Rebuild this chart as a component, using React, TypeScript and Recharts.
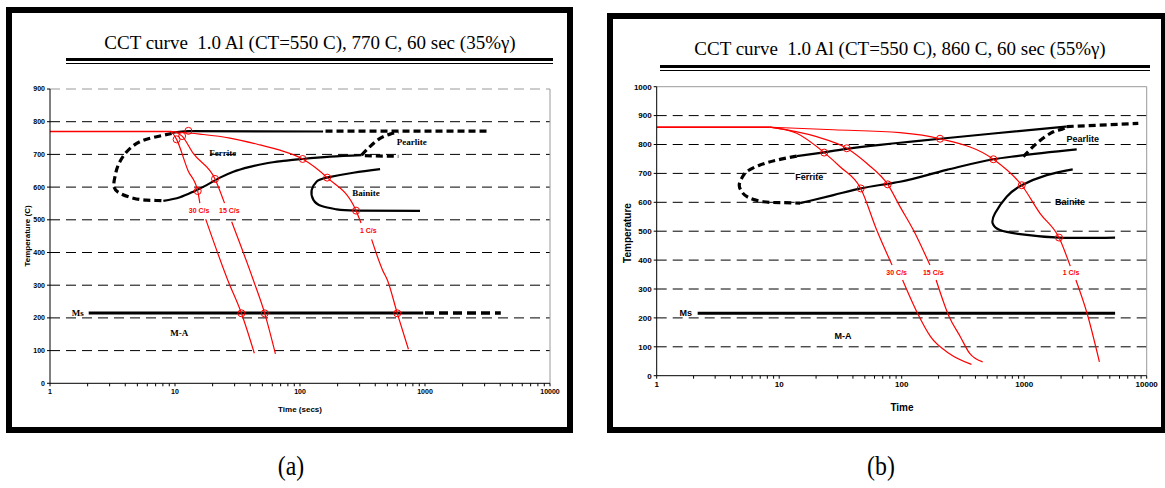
import { ComposedChart, Line, Scatter, XAxis, YAxis, CartesianGrid, ReferenceLine } from "recharts";

type Pt = { t: number; T: number };
type Tag = Pt & { label: string };

// log-axis tick positions: every integer step inside each decade
const DECADES = [1, 10, 100, 1000, 10000];
const LOG_TICKS: number[] = [];
DECADES.slice(0, -1).forEach((d) => {
  for (let k = 1; k <= 9; k++) LOG_TICKS.push(k * d);
});
LOG_TICKS.push(10000);

// ---------- (a) 770 C, 60 sec ----------
const aTempTicks = [0, 100, 200, 300, 400, 500, 600, 700, 800, 900];
const aHold: Pt[] = [{ t: 1, T: 770 }, { t: 9.4, T: 770 }];
const a30Top: Pt[] = [{ t: 9.4, T: 770 }, { t: 10.3, T: 746 }, { t: 12.7, T: 651 }, { t: 15.2, T: 588 }, { t: 15.8, T: 551 }];
const a30Low: Pt[] = [{ t: 17.6, T: 502 }, { t: 26.4, T: 316 }, { t: 34, T: 214 }, { t: 43.1, T: 92 }];
const a15Top: Pt[] = [{ t: 9.8, T: 770 }, { t: 11.4, T: 756 }, { t: 14, T: 703 }, { t: 20.9, T: 625 }, { t: 24.9, T: 551 }];
const a15Low: Pt[] = [{ t: 28.4, T: 494 }, { t: 42.3, T: 316 }, { t: 52.2, T: 214 }, { t: 63.6, T: 90 }];
const a1Top: Pt[] = [
  { t: 9.4, T: 770 }, { t: 15.8, T: 762 }, { t: 27.5, T: 750 }, { t: 47.9, T: 729 }, { t: 69.2, T: 713 },
  { t: 105, T: 686 }, { t: 165, T: 629 }, { t: 281, T: 528 }, { t: 308, T: 490 },
];
const a1Low: Pt[] = [{ t: 374, T: 440 }, { t: 458, T: 346 }, { t: 500, T: 316 }, { t: 600, T: 214 }, { t: 737, T: 104 }];

const aFerriteNose: Pt[] = [
  { t: 9.4, T: 764 }, { t: 7.13, T: 754 }, { t: 5.25, T: 739 }, { t: 4.11, T: 708 }, { t: 3.52, T: 668 },
  { t: 3.31, T: 632 }, { t: 3.25, T: 601 }, { t: 3.63, T: 581 }, { t: 4.64, T: 566 }, { t: 5.93, T: 560 },
  { t: 7.13, T: 559 }, { t: 8.07, T: 558 },
];
const aFerriteStart: Pt[] = [{ t: 9.4, T: 766 }, { t: 12.8, T: 771 }, { t: 153, T: 770 }];
const aFerriteStartExt: Pt[] = [{ t: 160, T: 771 }, { t: 3150, T: 771 }];
const aFerriteEnd: Pt[] = [
  { t: 8.07, T: 558 }, { t: 10.96, T: 569 }, { t: 14, T: 586 }, { t: 17.9, T: 606 }, { t: 22.9, T: 629 },
  { t: 29.3, T: 647 }, { t: 39.8, T: 662 }, { t: 54.1, T: 673 }, { t: 73.6, T: 680 }, { t: 105, T: 686 },
  { t: 174, T: 693 }, { t: 311, T: 698 },
];
const aFerriteEndExt: Pt[] = [{ t: 330, T: 696 }, { t: 612, T: 694 }];
const aPearlite: Pt[] = [{ t: 311, T: 698 }, { t: 363, T: 724 }, { t: 437, T: 749 }, { t: 525, T: 762 }, { t: 612, T: 768 }];
const aBainite: Pt[] = [
  { t: 437, T: 655 }, { t: 267, T: 644 }, { t: 163, T: 629 }, { t: 136, T: 617 }, { t: 124, T: 591 },
  { t: 128, T: 561 }, { t: 149, T: 542 }, { t: 196, T: 532 }, { t: 281, T: 528 }, { t: 912, T: 527 },
];
const aMs: Pt[] = [{ t: 2.04, T: 215 }, { t: 968, T: 215 }];
const aMsExt: Pt[] = [{ t: 1000, T: 215 }, { t: 4040, T: 215 }];
const aRings: Pt[] = [
  { t: 10.3, T: 746 }, { t: 11.4, T: 756 }, { t: 12.8, T: 772 }, { t: 15.2, T: 588 }, { t: 20.9, T: 625 },
  { t: 105, T: 686 }, { t: 165, T: 629 }, { t: 281, T: 528 }, { t: 34, T: 214 }, { t: 52.2, T: 214 }, { t: 600, T: 214 },
];
const aPhaseTags: Tag[] = [
  { t: 24.1, T: 705, label: "Ferrite" }, { t: 783, T: 739, label: "Pearlite" }, { t: 337, T: 581, label: "Bainite" },
  { t: 1.67, T: 215, label: "Ms" }, { t: 10.8, T: 153, label: "M-A" },
];
const aRateTags: Tag[] = [
  { t: 15.6, T: 527, label: "30 C/s" }, { t: 27.2, T: 527, label: "15 C/s" }, { t: 352, T: 466, label: "1 C/s" },
];

// ---------- (b) 860 C, 60 sec ----------
const bTempTicks = [0, 100, 200, 300, 400, 500, 600, 700, 800, 900, 1000];
const bHold: Pt[] = [{ t: 1, T: 860 }, { t: 8.4, T: 860 }];
const b30Top: Pt[] = [
  { t: 8.4, T: 860 }, { t: 13.9, T: 839 }, { t: 23.3, T: 772 }, { t: 31.4, T: 723 }, { t: 46.3, T: 648 },
  { t: 62.5, T: 504 }, { t: 83.4, T: 383 },
];
const b30Low: Pt[] = [{ t: 101.7, T: 331 }, { t: 134.6, T: 216 }, { t: 172, T: 135 }, { t: 244, T: 77 }, { t: 371, T: 39 }];
const b15Top: Pt[] = [
  { t: 8.4, T: 860 }, { t: 20.2, T: 827 }, { t: 35.6, T: 787 }, { t: 51.8, T: 735 }, { t: 76.9, T: 662 },
  { t: 96.9, T: 585 }, { t: 124.5, T: 504 }, { t: 170, T: 383 },
];
const b15Low: Pt[] = [{ t: 191, T: 331 }, { t: 244, T: 204 }, { t: 301, T: 135 }, { t: 359, T: 77 }, { t: 458, T: 48 }];
const b1Top: Pt[] = [
  { t: 8.4, T: 860 }, { t: 27.7, T: 851 }, { t: 96.9, T: 841 }, { t: 205.6, T: 820 }, { t: 560, T: 749 },
  { t: 955, T: 659 }, { t: 1346, T: 562 }, { t: 1923, T: 478 }, { t: 2378, T: 379 },
];
const b1Low: Pt[] = [{ t: 2643, T: 331 }, { t: 3258, T: 216 }, { t: 4111, T: 48 }];

const bFerriteNose: Pt[] = [
  { t: 13.9, T: 760 }, { t: 9.55, T: 746 }, { t: 6.97, T: 729 }, { t: 5.43, T: 706 }, { t: 4.94, T: 683 },
  { t: 4.72, T: 660 }, { t: 4.94, T: 637 }, { t: 5.6, T: 617 }, { t: 7.42, T: 602 }, { t: 10.2, T: 599 },
  { t: 14.8, T: 597 },
];
const bFerriteStart: Pt[] = [
  { t: 13.9, T: 760 }, { t: 23.3, T: 773 }, { t: 35.6, T: 785 }, { t: 66.5, T: 799 }, { t: 96.9, T: 806 },
  { t: 205.6, T: 820 }, { t: 560, T: 838 }, { t: 2223, T: 862 },
];
const bFerriteStartExt: Pt[] = [{ t: 2223, T: 862 }, { t: 8540, T: 873 }];
const bFerriteEnd: Pt[] = [
  { t: 14.8, T: 597 }, { t: 27.7, T: 625 }, { t: 46.3, T: 648 }, { t: 76.9, T: 664 }, { t: 96.9, T: 671 },
  { t: 233, T: 712 }, { t: 560, T: 749 }, { t: 868, T: 760 }, { t: 2683, T: 783 },
];
const bPearlite: Pt[] = [{ t: 984, T: 758 }, { t: 1265, T: 804 }, { t: 1728, T: 844 }, { t: 2154, T: 858 }, { t: 2223, T: 862 }];
const bBainite: Pt[] = [
  { t: 2489, T: 714 }, { t: 1527, T: 694 }, { t: 955, T: 659 }, { t: 719, T: 619 }, { t: 578, T: 562 },
  { t: 553, T: 527 }, { t: 634, T: 504 }, { t: 925, T: 490 }, { t: 1923, T: 478 }, { t: 5520, T: 478 },
];
const bMs: Pt[] = [{ t: 2.16, T: 216 }, { t: 5520, T: 216 }];
const bRings: Pt[] = [
  { t: 23.3, T: 772 }, { t: 35.6, T: 787 }, { t: 46.3, T: 648 }, { t: 76.9, T: 662 },
  { t: 205.6, T: 820 }, { t: 560, T: 749 }, { t: 955, T: 659 }, { t: 1923, T: 478 },
];
const bPhaseTags: Tag[] = [
  { t: 17.6, T: 689, label: "Ferrite" }, { t: 3006, T: 818, label: "Pearlite" }, { t: 2366, T: 601, label: "Bainite" },
  { t: 1.73, T: 216, label: "Ms" }, { t: 33.2, T: 137, label: "M-A" },
];
const bRateTags: Tag[] = [
  { t: 91, T: 358, label: "30 C/s" }, { t: 181, T: 358, label: "15 C/s" }, { t: 2410, T: 358, label: "1 C/s" },
];

const SANS = "'Liberation Sans', Arial, sans-serif";
const SERIF = "'Liberation Serif', 'Times New Roman', serif";
const RED = "#ff0000";

type Kind = "red" | "hold" | "solid" | "dash" | "ms" | "msDash";
type Series = { data: Pt[]; kind: Kind; curve?: "monotone" | "natural" | "linear" };

const STYLE: Record<Kind, { stroke: string; width: number; dash?: string }> = {
  red: { stroke: RED, width: 1.2 },
  hold: { stroke: RED, width: 1.6 },
  solid: { stroke: "#000", width: 2.2 },
  dash: { stroke: "#000", width: 3.2, dash: "7 4" },
  ms: { stroke: "#000", width: 3 },
  msDash: { stroke: "#000", width: 3.6, dash: "9 5" },
};

const aSeries: Series[] = [
  { data: aFerriteNose, kind: "dash", curve: "natural" },
  { data: aFerriteStart, kind: "solid" }, { data: aFerriteStartExt, kind: "dash" },
  { data: aFerriteEnd, kind: "solid" }, { data: aFerriteEndExt, kind: "dash" },
  { data: aPearlite, kind: "dash" },
  { data: aBainite, kind: "solid", curve: "natural" },
  { data: aMs, kind: "ms" }, { data: aMsExt, kind: "msDash" },
  { data: aHold, kind: "hold", curve: "linear" },
  { data: a30Top, kind: "red" }, { data: a30Low, kind: "red" },
  { data: a15Top, kind: "red" }, { data: a15Low, kind: "red" },
  { data: a1Top, kind: "red" }, { data: a1Low, kind: "red" },
];

const bSeries: Series[] = [
  { data: bFerriteNose, kind: "dash", curve: "natural" },
  { data: bFerriteStart, kind: "solid" }, { data: bFerriteStartExt, kind: "dash" },
  { data: bFerriteEnd, kind: "solid" },
  { data: bPearlite, kind: "dash" },
  { data: bBainite, kind: "solid", curve: "natural" },
  { data: bMs, kind: "ms" },
  { data: bHold, kind: "hold", curve: "linear" },
  { data: b30Top, kind: "red" }, { data: b30Low, kind: "red" },
  { data: b15Top, kind: "red" }, { data: b15Low, kind: "red" },
  { data: b1Top, kind: "red" }, { data: b1Low, kind: "red" },
];

const ring = (p: any) => <circle cx={p.cx} cy={p.cy} r={3.5} fill="none" stroke={RED} strokeWidth={1} />;

const textMark = (fill: string, family: string, size: number) => (p: any) => (
  <text x={p.cx} y={p.cy} textAnchor="middle" dominantBaseline="central" fill={fill}
    fontFamily={family} fontSize={size} fontWeight={700}>
    {p.payload.label}
  </text>
);

interface PanelProps {
  left: number;
  width: number;
  height: number;
  margin: { top: number; right: number; bottom: number; left: number };
  yMax: number;
  yTicks: number[];
  tickFont: number;
  series: Series[];
  rings: Pt[];
  phaseTags: Tag[];
  rateTags: Tag[];
  phaseFont: string;
  phaseSize: number;
  topSolid: boolean;
}

function CctPanel(p: PanelProps) {
  const tickStyle = { fontSize: p.tickFont, fill: "#000", fontWeight: 700, fontFamily: SANS };
  return (
    <div style={{ position: "absolute", left: p.left, top: 0 }}>
      <ComposedChart width={p.width} height={p.height} margin={p.margin}>
        <CartesianGrid vertical={false} stroke="#000" strokeDasharray="10 6"
          horizontalValues={p.yTicks.filter((v) => v > 0 && v < p.yMax)} />
        <ReferenceLine y={p.yMax} stroke="#9a9a9a" strokeWidth={1} strokeDasharray={p.topSolid ? undefined : "10 6"} />
        <ReferenceLine x={10000} stroke="#9a9a9a" strokeWidth={1} />
        <XAxis type="number" dataKey="t" scale="log" domain={[1, 10000]} ticks={LOG_TICKS} interval={0}
          allowDataOverflow tickFormatter={(v: number) => (DECADES.includes(v) ? String(v) : "")}
          tick={tickStyle} tickSize={3} tickMargin={3} stroke="#000" height={20} />
        <YAxis type="number" dataKey="T" domain={[0, p.yMax]} ticks={p.yTicks} interval={0}
          allowDataOverflow tick={tickStyle} tickSize={3} tickMargin={2} stroke="#000" width={40} />
        {p.series.map((s, i) => {
          const st = STYLE[s.kind];
          return (
            <Line key={i} name={`s${i}`} data={s.data} dataKey="T" type={s.curve ?? "monotone"}
              stroke={st.stroke} strokeWidth={st.width} strokeDasharray={st.dash} dot={false}
              activeDot={false} isAnimationActive={false} />
          );
        })}
        <Scatter name="rings" data={p.rings} shape={ring} isAnimationActive={false} />
        <Scatter name="phases" data={p.phaseTags} shape={textMark("#000", p.phaseFont, p.phaseSize)} isAnimationActive={false} />
        <Scatter name="rates" data={p.rateTags} shape={textMark(RED, SANS, 7)} isAnimationActive={false} />
      </ComposedChart>
    </div>
  );
}

const abs = (s: React.CSSProperties): React.CSSProperties => ({ position: "absolute", ...s });

export default function App() {
  return (
    <div style={{ position: "absolute", left: 0, top: 0, width: 1165, height: 488, background: "#fff", overflow: "hidden" }}>
      {/* frames */}
      <div style={abs({ left: 6, top: 7, width: 567, height: 426, border: "6px solid #000", boxSizing: "border-box" })} />
      <div style={abs({ left: 607, top: 13, width: 560, height: 420, border: "6px solid #000", boxSizing: "border-box" })} />

      {/* titles with double rule */}
      <div style={abs({ left: 60, width: 500, top: 32, textAlign: "center", fontFamily: SERIF, fontSize: 19, whiteSpace: "nowrap" })}>
        CCT curve&nbsp; 1.0 Al (CT=550 C), 770 C, 60 sec (35%γ)
      </div>
      <div style={abs({ left: 66, width: 487, top: 58, height: 3, background: "#000" })} />
      <div style={abs({ left: 66, width: 487, top: 63, height: 1, background: "#000" })} />

      <div style={abs({ left: 650, width: 500, top: 38, textAlign: "center", fontFamily: SERIF, fontSize: 19, whiteSpace: "nowrap" })}>
        CCT curve&nbsp; 1.0 Al (CT=550 C), 860 C, 60 sec (55%γ)
      </div>
      <div style={abs({ left: 660, width: 490, top: 65, height: 3, background: "#000" })} />
      <div style={abs({ left: 660, width: 490, top: 70, height: 1, background: "#000" })} />

      <CctPanel left={0} width={580} height={430}
        margin={{ top: 89, right: 30, bottom: 26.7, left: 10 }}
        yMax={900} yTicks={aTempTicks} tickFont={7} series={aSeries} rings={aRings}
        phaseTags={aPhaseTags} rateTags={aRateTags} phaseFont={SERIF} phaseSize={9} topSolid={false} />
      <CctPanel left={600} width={565} height={430}
        margin={{ top: 86.7, right: 18.3, bottom: 34.3, left: 16.7 }}
        yMax={1000} yTicks={bTempTicks} tickFont={8} series={bSeries} rings={bRings}
        phaseTags={bPhaseTags} rateTags={bRateTags} phaseFont={SANS} phaseSize={9} topSolid={true} />

      {/* axis titles */}
      <div style={abs({ left: 27, top: 236, transform: "translate(-50%,-50%) rotate(-90deg)", fontFamily: SANS, fontWeight: 700, fontSize: 8, whiteSpace: "nowrap" })}>
        Temperature (C)
      </div>
      <div style={abs({ left: 300, top: 409, transform: "translate(-50%,-50%)", fontFamily: SANS, fontWeight: 700, fontSize: 8, whiteSpace: "nowrap" })}>
        Time (secs)
      </div>
      <div style={abs({ left: 627, top: 233, transform: "translate(-50%,-50%) rotate(-90deg)", fontFamily: SANS, fontWeight: 700, fontSize: 10, whiteSpace: "nowrap" })}>
        Temperature
      </div>
      <div style={abs({ left: 902, top: 407, transform: "translate(-50%,-50%)", fontFamily: SANS, fontWeight: 700, fontSize: 10, whiteSpace: "nowrap" })}>
        Time
      </div>

      {/* captions */}
      <div style={abs({ left: 291, top: 466, transform: "translate(-50%,-50%) scaleX(0.85)", fontFamily: SERIF, fontSize: 28 })}>(a)</div>
      <div style={abs({ left: 881, top: 466, transform: "translate(-50%,-50%) scaleX(0.85)", fontFamily: SERIF, fontSize: 28 })}>(b)</div>
    </div>
  );
}
